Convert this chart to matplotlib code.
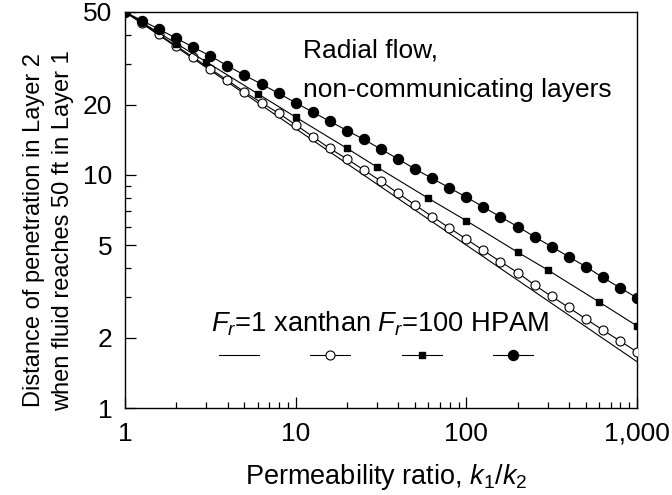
import matplotlib
matplotlib.use("Agg")
import matplotlib.pyplot as plt
from matplotlib.ticker import FixedLocator, FixedFormatter, LogLocator, NullFormatter

plt.rcParams['font.family'] = ['Liberation Sans', 'DejaVu Sans']
plt.rcParams['mathtext.fontset'] = 'custom'
plt.rcParams['mathtext.rm'] = 'Liberation Sans'
plt.rcParams['mathtext.it'] = 'Liberation Sans:italic'

# ---- data ----
k_ratio = [1, 1.26, 1.58, 2, 2.51, 3.16, 3.98, 5.01, 6.31, 7.94,
           10, 12.6, 15.8, 20, 25.1, 31.6, 39.8, 50.1, 63.1, 79.4,
           100, 126, 158, 200, 251, 316, 398, 501, 631, 794, 1000]

fr1_x = [1, 10, 100, 1000]
fr1_y = [50, 15.8, 5.0, 1.58]

xanthan_y = [50, 45.0, 40.1, 35.7, 32.0, 28.5, 25.5, 22.7, 20.4, 18.4,
             16.4, 14.6, 13.0, 11.7, 10.5, 9.40, 8.34, 7.43, 6.63, 5.93,
             5.30, 4.74, 4.25, 3.81, 3.37, 3.01, 2.70, 2.41, 2.16, 1.94, 1.74]

fr100_x = [1, 2, 3, 6, 10, 20, 30, 60, 100, 200, 300, 600, 1000]
fr100_y = [50, 36.6, 30.5, 22.3, 17.7, 13.0, 10.8, 7.93, 6.36, 4.66, 3.91, 2.85, 2.25]

hpam_y = [50, 45.9, 42.2, 38.6, 35.3, 32.4, 29.4, 26.8, 24.5, 22.4,
          20.4, 18.6, 17.0, 15.5, 14.2, 12.9, 11.7, 10.6, 9.66, 8.81,
          8.03, 7.28, 6.61, 6.00, 5.43, 4.92, 4.46, 4.04, 3.63, 3.28, 2.97]

x_ticks = [1, 10, 100, 1000]
x_tick_labels = ['1', '10', '100', '1,000']
y_ticks = [1, 2, 5, 10, 20, 50]
y_tick_labels = ['1', '2', '5', '10', '20', '50']

FS = 19

fig = plt.figure(figsize=(6.72, 4.95), dpi=100)
ax = fig.add_axes([125 / 672, 1 - 408 / 495, 512 / 672, 396 / 495])

lw = 0.8
l1, = ax.plot(fr1_x, fr1_y, color='black', lw=lw, zorder=2)
l2, = ax.plot(k_ratio, xanthan_y, color='black', lw=lw, marker='o', ms=6.5,
              mfc='white', mec='black', mew=0.8, zorder=3)
l3, = ax.plot(fr100_x, fr100_y, color='black', lw=lw, marker='s', ms=3.8,
              mfc='black', mec='black', zorder=4)
l4, = ax.plot(k_ratio, hpam_y, color='black', lw=lw, marker='o', ms=7.2,
              mfc='black', mec='black', zorder=5)

ax.set_xscale('log')
ax.set_yscale('log')
ax.set_xlim(1, 1000)
ax.set_ylim(1, 50)

ax.xaxis.set_major_locator(FixedLocator(x_ticks))
ax.xaxis.set_major_formatter(FixedFormatter(x_tick_labels))
ax.xaxis.set_minor_locator(LogLocator(base=10, subs=range(2, 10)))
ax.xaxis.set_minor_formatter(NullFormatter())
ax.yaxis.set_major_locator(FixedLocator(y_ticks))
ax.yaxis.set_major_formatter(FixedFormatter(y_tick_labels))
ax.yaxis.set_minor_locator(LogLocator(base=10, subs=range(2, 10)))
ax.yaxis.set_minor_formatter(NullFormatter())

ax.tick_params(which='both', direction='in', top=False, right=False, width=0.9,
               labelsize=FS, colors='black')
ax.tick_params(which='major', length=8)
ax.tick_params(which='minor', length=4)
ax.tick_params(axis='x', which='major', pad=10)
ax.tick_params(axis='y', which='major', pad=9)
for s in ax.spines.values():
    s.set_linewidth(1.0)

ax.set_xlabel(r'Permeability ratio, $\mathit{k_1/k_2}$', fontsize=19.5)
ax.xaxis.set_label_coords(0.51, -0.137)
ax.set_ylabel('Distance of penetration in Layer 2\nwhen fluid reaches 50 ft in Layer 1',
              fontsize=17, linespacing=1.4)
ax.yaxis.set_label_coords(-0.1, 0.449)

ax.text(0.348, 0.886, 'Radial flow,', transform=ax.transAxes, fontsize=FS,
        ha='left', va='baseline')
ax.text(0.348, 0.785, 'non-communicating layers', transform=ax.transAxes,
        fontsize=FS, ha='left', va='baseline')

ax.text(0.168, 0.192, r'$\mathit{F_r}$=1 xanthan $\mathit{F_r}$=100 HPAM',
        transform=ax.transAxes, fontsize=19.6, ha='left', va='baseline')

leg = ax.legend(handles=[l1, l2, l3, l4], labels=['', '', '', ''], ncol=4,
                loc='center', bbox_to_anchor=(0.490, 0.129), frameon=False,
                fontsize=16.5, handlelength=1.75, handletextpad=0.0,
                columnspacing=2.24, numpoints=1, borderpad=0, borderaxespad=0)

fig.savefig('out.png', dpi=100)
